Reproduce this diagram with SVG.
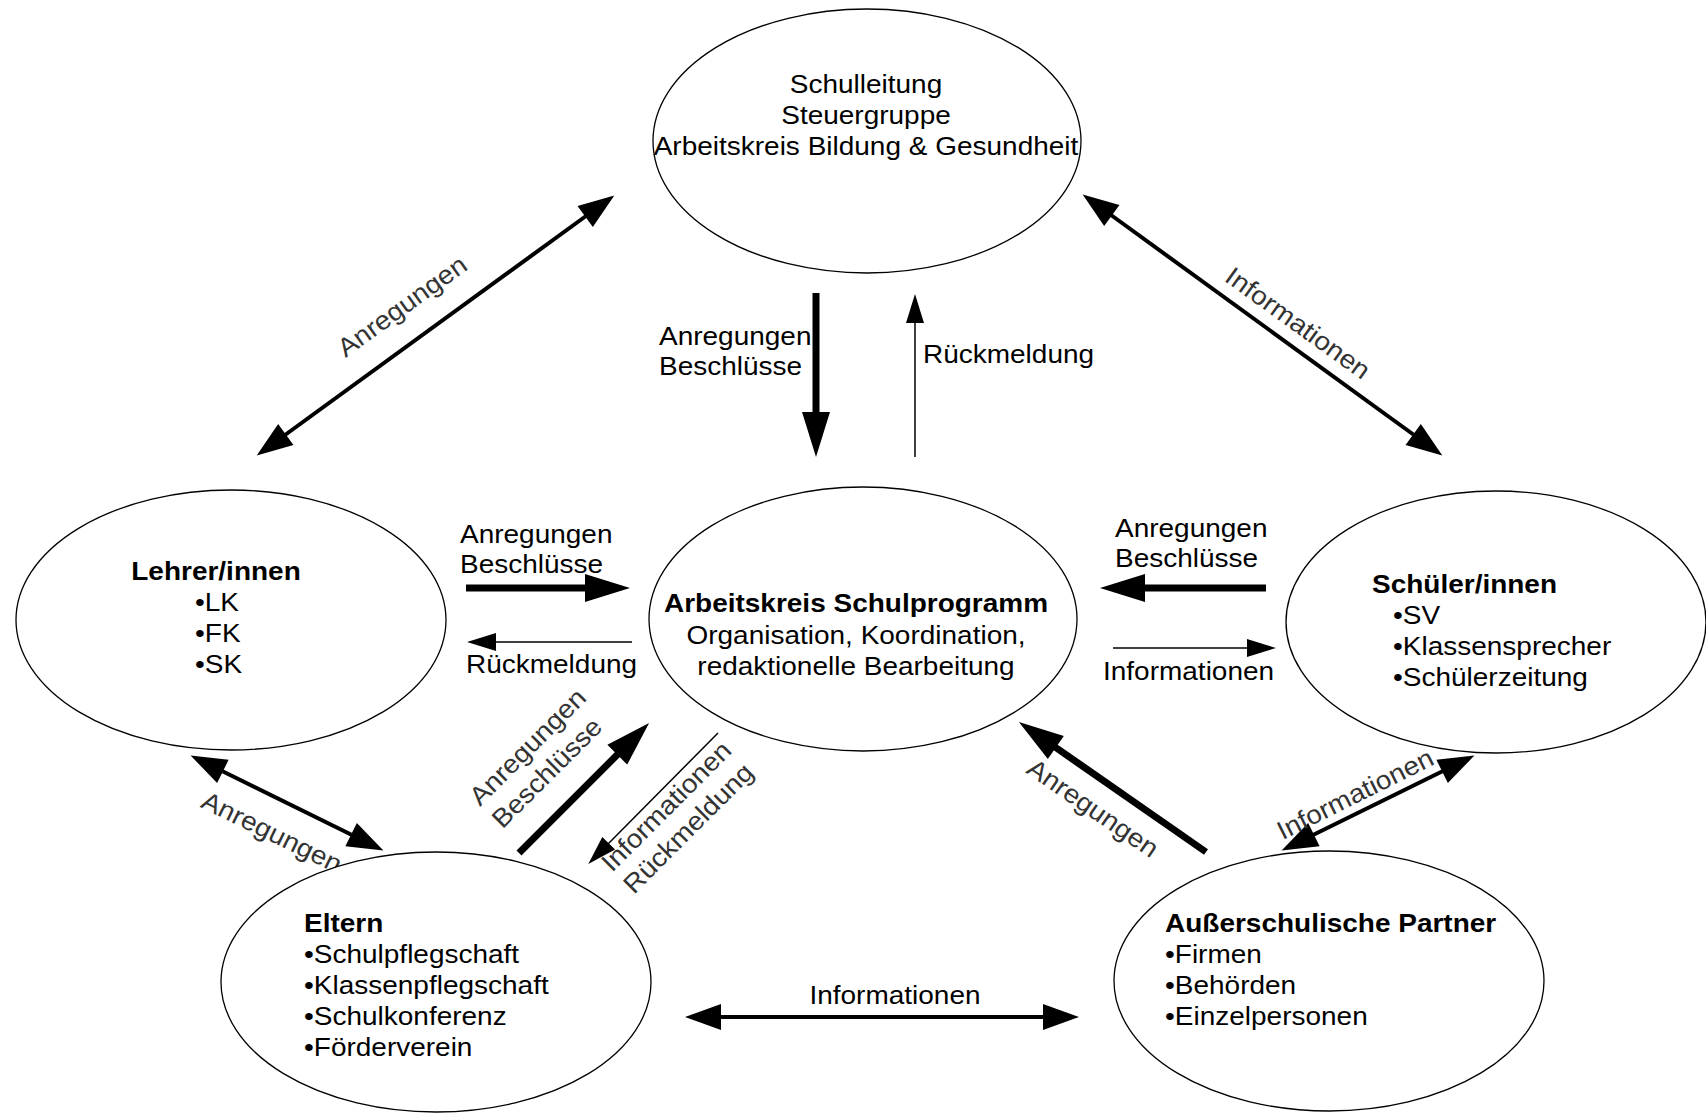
<svg xmlns="http://www.w3.org/2000/svg" width="1706" height="1113" viewBox="0 0 1706 1113">
<style>
.node{fill:#fff;stroke:#000;stroke-width:1.3}
.t{font-family:"Liberation Sans",Arial,sans-serif;font-size:26px;fill:#000}
.b{font-weight:bold}
.r{fill:#333}
.mid{text-anchor:middle}
.thick{stroke:#000;stroke-width:7;fill:none}
.med{stroke:#000;stroke-width:4;fill:none}
.thin{stroke:#000;stroke-width:1.5;fill:none}
</style>
<defs>
<marker id="hT" markerUnits="userSpaceOnUse" markerWidth="46" markerHeight="30" viewBox="0 0 46 30" refX="1" refY="15" orient="auto-start-reverse" overflow="visible"><path d="M0,1 L45,15 L0,29 z" fill="#000"/></marker>
<marker id="hM" markerUnits="userSpaceOnUse" markerWidth="38" markerHeight="28" viewBox="0 0 38 28" refX="1" refY="13" orient="auto-start-reverse" overflow="visible"><path d="M0,0 L36,13 L0,26 z" fill="#000"/></marker>
<marker id="hS" markerUnits="userSpaceOnUse" markerWidth="30" markerHeight="20" viewBox="0 0 30 20" refX="1" refY="9" orient="auto-start-reverse" overflow="visible"><path d="M0,0 L29,9 L0,18 z" fill="#000"/></marker>
</defs>
<rect width="1706" height="1113" fill="#fff"/>

<g id="connectors">
<line class="thick" x1="816" y1="293" x2="816" y2="413" marker-end="url(#hT)"/>
<line class="thin" x1="915" y1="457" x2="915" y2="322" marker-end="url(#hS)"/>
<line class="thick" x1="466" y1="588" x2="586" y2="588" marker-end="url(#hT)"/>
<line class="thin" x1="632" y1="642" x2="495" y2="642" marker-end="url(#hS)"/>
<line class="thick" x1="1266" y1="588" x2="1144" y2="588" marker-end="url(#hT)"/>
<line class="thin" x1="1113" y1="648" x2="1248" y2="648" marker-end="url(#hS)"/>
<line class="med" x1="285" y1="435" x2="586" y2="216" marker-start="url(#hM)" marker-end="url(#hM)"/>
<line class="med" x1="1111" y1="215" x2="1414" y2="435" marker-start="url(#hM)" marker-end="url(#hM)"/>
<line class="med" x1="222" y1="771" x2="352" y2="835" marker-start="url(#hM)" marker-end="url(#hM)"/>
<line class="thick" x1="519" y1="853" x2="618" y2="754" marker-end="url(#hT)"/>
<line class="thin" x1="718" y1="733" x2="608" y2="844" marker-end="url(#hS)"/>
<line class="thick" x1="1206" y1="852" x2="1055" y2="747" marker-end="url(#hT)"/>
<line class="med" x1="1313" y1="835" x2="1443" y2="771" marker-start="url(#hM)" marker-end="url(#hM)"/>
<line class="med" x1="720" y1="1017" x2="1044" y2="1017" marker-start="url(#hM)" marker-end="url(#hM)"/>
</g>

<g id="connector-labels">
<text class="t" transform="translate(659,345) scale(1.077,1)"><tspan x="0">Anregungen</tspan><tspan x="0" dy="30">Beschlüsse</tspan></text>
<text class="t" transform="translate(923,363) scale(1.077,1)">Rückmeldung</text>
<text class="t" transform="translate(460,543) scale(1.077,1)"><tspan x="0">Anregungen</tspan><tspan x="0" dy="30">Beschlüsse</tspan></text>
<text class="t" transform="translate(466,673) scale(1.077,1)">Rückmeldung</text>
<text class="t" transform="translate(1115,537) scale(1.077,1)"><tspan x="0">Anregungen</tspan><tspan x="0" dy="30">Beschlüsse</tspan></text>
<text class="t" transform="translate(1103,680) scale(1.077,1)">Informationen</text>
<text class="t mid" transform="translate(895,1004) scale(1.077,1)">Informationen</text>
<text class="t r mid" transform="translate(402,306) rotate(-35.8) scale(1.077,1)" y="9">Anregungen</text>
<text class="t r mid" transform="translate(1298,323) rotate(35.8) scale(1.077,1)" y="9">Informationen</text>
<text class="t r mid" transform="translate(272,832) rotate(26) scale(1.077,1)" y="9">Anregungen</text>
<text class="t r" transform="translate(480,807) rotate(-45) scale(1.077,1)"><tspan x="0">Anregungen</tspan><tspan x="0" dy="32">Beschlüsse</tspan></text>
<text class="t r" transform="translate(612,873) rotate(-45) scale(1.077,1)"><tspan x="0">Informationen</tspan><tspan x="0" dy="31">Rückmeldung</tspan></text>
<text class="t r mid" transform="translate(1093,808) rotate(34.5) scale(1.077,1)" y="9">Anregungen</text>
<text class="t r mid" transform="translate(1355,794) rotate(-26.5) scale(1.077,1)" y="9">Informationen</text>
</g>

<g id="schulleitung">
<ellipse class="node" cx="867" cy="141" rx="214" ry="132"/>
<text class="t mid" transform="translate(866,93) scale(1.077,1)"><tspan x="0">Schulleitung</tspan><tspan x="0" dy="31">Steuergruppe</tspan><tspan x="0" dy="31">Arbeitskreis Bildung &amp; Gesundheit</tspan></text>
</g>

<g id="lehrer">
<ellipse class="node" cx="231" cy="620" rx="215" ry="130"/>
<text class="t b mid" transform="translate(216,580) scale(1.077,1)">Lehrer/innen</text>
<text class="t" transform="translate(195,611) scale(1.077,1)"><tspan x="0">•LK</tspan><tspan x="0" dy="31">•FK</tspan><tspan x="0" dy="31">•SK</tspan></text>
</g>

<g id="schulprogramm">
<ellipse class="node" cx="863" cy="619" rx="214" ry="132"/>
<text class="t mid" transform="translate(856,612) scale(1.077,1)"><tspan x="0" class="b">Arbeitskreis Schulprogramm</tspan><tspan x="0" dy="32">Organisation, Koordination,</tspan><tspan x="0" dy="31">redaktionelle Bearbeitung</tspan></text>
</g>

<g id="schueler">
<ellipse class="node" cx="1496" cy="622" rx="210" ry="131"/>
<text class="t b" transform="translate(1372,593) scale(1.077,1)">Schüler/innen</text>
<text class="t" transform="translate(1393,624) scale(1.077,1)"><tspan x="0">•SV</tspan><tspan x="0" dy="31">•Klassensprecher</tspan><tspan x="0" dy="31">•Schülerzeitung</tspan></text>
</g>

<g id="eltern">
<ellipse class="node" cx="436" cy="982" rx="215" ry="130"/>
<text class="t" transform="translate(304,932) scale(1.077,1)"><tspan x="0" class="b">Eltern</tspan><tspan x="0" dy="31">•Schulpflegschaft</tspan><tspan x="0" dy="31">•Klassenpflegschaft</tspan><tspan x="0" dy="31">•Schulkonferenz</tspan><tspan x="0" dy="31">•Förderverein</tspan></text>
</g>

<g id="partner">
<ellipse class="node" cx="1329" cy="981" rx="215" ry="130"/>
<text class="t" transform="translate(1165,932) scale(1.077,1)"><tspan x="0" class="b">Außerschulische Partner</tspan><tspan x="0" dy="31">•Firmen</tspan><tspan x="0" dy="31">•Behörden</tspan><tspan x="0" dy="31">•Einzelpersonen</tspan></text>
</g>
</svg>
